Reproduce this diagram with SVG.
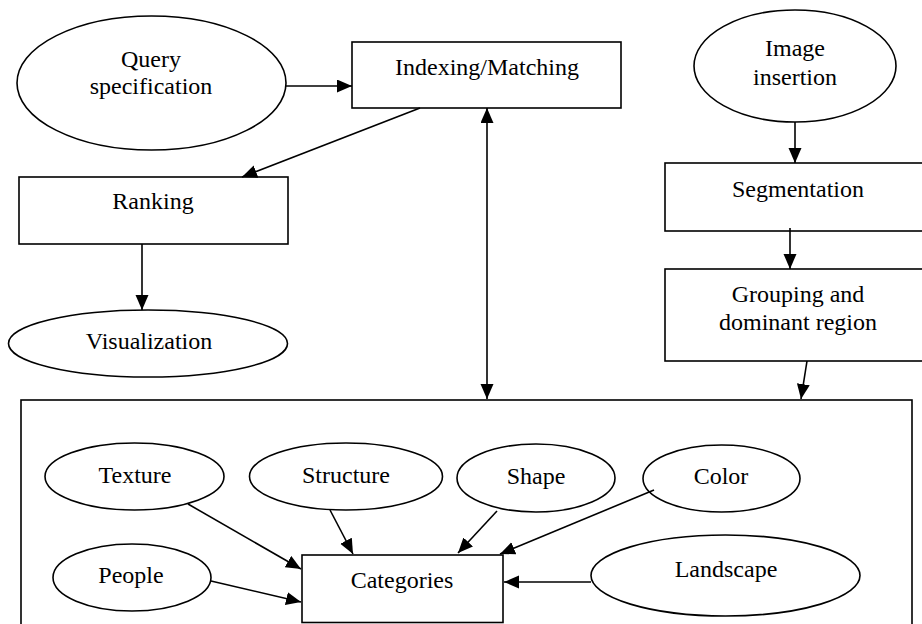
<svg xmlns="http://www.w3.org/2000/svg" width="922" height="624" viewBox="0 0 922 624">
<style>
.n{fill:#fff;stroke:#000;stroke-width:1.6}
.o{fill:none;stroke:#000;stroke-width:1.6}
.t{font-family:"Liberation Serif","Times New Roman",serif;font-size:24px;fill:#000;text-anchor:middle}
.c{stroke:#000;stroke-width:1.6;fill:none;marker-end:url(#ah)}
</style>
<defs>
<marker id="ah" markerUnits="userSpaceOnUse" markerWidth="16" markerHeight="14" refX="15" refY="6.5" orient="auto-start-reverse">
<path d="M0,0 L15,6.5 L0,13 z" fill="#000"/>
</marker>
</defs>
<rect width="922" height="624" fill="#fff"/>
<g id="store"><rect class="o" x="21" y="400" width="891" height="240"/></g>
<g id="query"><ellipse class="n" cx="151.5" cy="83" rx="134.5" ry="67"/><text class="t" x="151" y="67">Query</text><text class="t" x="151" y="94">specification</text></g>
<g id="indexing"><rect class="n" x="352" y="42" width="269" height="66"/><text class="t" x="487" y="75">Indexing/Matching</text></g>
<g id="ranking"><rect class="n" x="19" y="177" width="269" height="67"/><text class="t" x="153" y="209">Ranking</text></g>
<g id="visualization"><ellipse class="n" cx="148" cy="343.5" rx="139.5" ry="33.5"/><text class="t" x="149" y="349">Visualization</text></g>
<g id="image-insertion"><ellipse class="n" cx="795" cy="66" rx="101" ry="56"/><text class="t" x="795" y="56">Image</text><text class="t" x="795" y="85">insertion</text></g>
<g id="segmentation"><rect class="n" x="665" y="163" width="270" height="68"/><text class="t" x="798" y="197">Segmentation</text></g>
<g id="grouping"><rect class="n" x="665" y="269" width="270" height="92"/><text class="t" x="798" y="302">Grouping and</text><text class="t" x="798" y="330">dominant region</text></g>
<g id="texture"><ellipse class="n" cx="134.5" cy="476.5" rx="89.5" ry="33.5"/><text class="t" x="135" y="483">Texture</text></g>
<g id="structure"><ellipse class="n" cx="346" cy="476.5" rx="96.5" ry="33.5"/><text class="t" x="346" y="483">Structure</text></g>
<g id="shape"><ellipse class="n" cx="536" cy="478" rx="79" ry="34"/><text class="t" x="536" y="484">Shape</text></g>
<g id="color"><ellipse class="n" cx="721.5" cy="478.5" rx="78.5" ry="33.5"/><text class="t" x="721" y="484">Color</text></g>
<g id="people"><ellipse class="n" cx="132" cy="577.5" rx="79" ry="33.5"/><text class="t" x="131" y="583">People</text></g>
<g id="categories"><rect class="n" x="302" y="555" width="201" height="67.5"/><text class="t" x="402" y="588">Categories</text></g>
<g id="landscape"><ellipse class="n" cx="725.5" cy="575.5" rx="134.5" ry="40.5"/><text class="t" x="726" y="577">Landscape</text></g>
<g id="connectors">
<line class="c" x1="286" y1="86" x2="352" y2="86"/>
<line class="c" x1="420" y1="108" x2="242" y2="177"/>
<line class="c" x1="142" y1="244" x2="142" y2="310"/>
<line class="c" x1="487" y1="108" x2="487" y2="399" style="marker-start:url(#ah)"/>
<line class="c" x1="795" y1="122" x2="795" y2="163"/>
<line class="c" x1="790" y1="228" x2="790" y2="269"/>
<line class="c" x1="807" y1="361" x2="801" y2="399"/>
<line class="c" x1="188" y1="504" x2="301" y2="569"/>
<line class="c" x1="330" y1="510" x2="353" y2="554"/>
<line class="c" x1="497" y1="511" x2="458" y2="553"/>
<line class="c" x1="654" y1="490" x2="500" y2="554"/>
<line class="c" x1="211" y1="581" x2="301" y2="602"/>
<line class="c" x1="591" y1="582" x2="504" y2="582"/>
</g>
</svg>
